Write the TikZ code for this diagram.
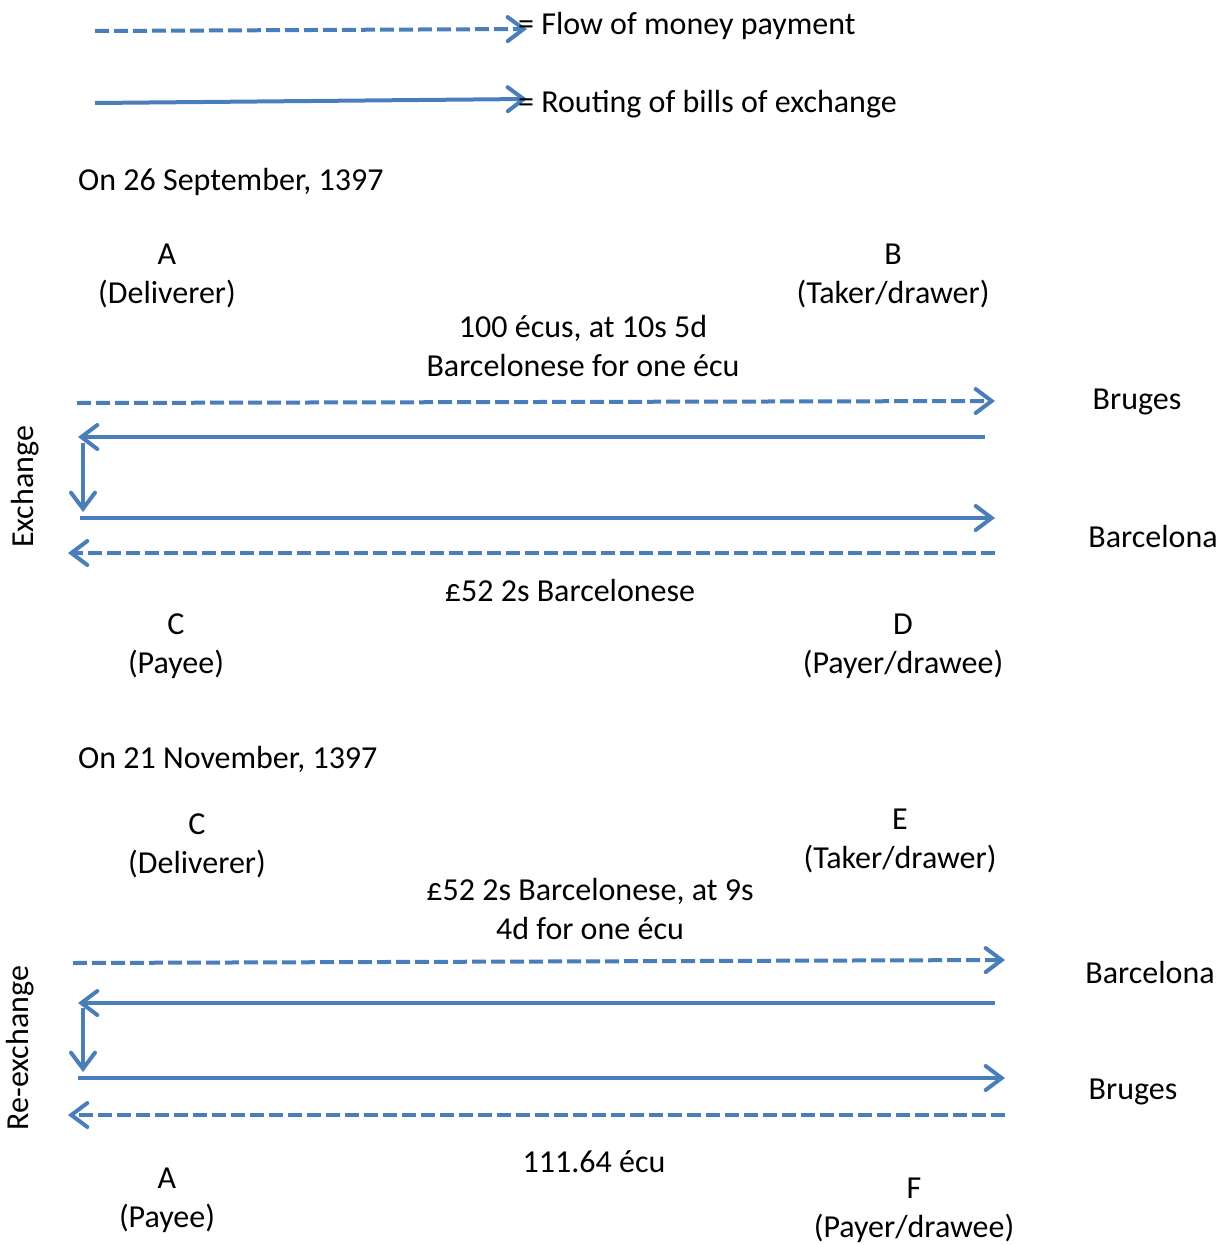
\documentclass[tikz,border=0pt]{standalone}
\usepackage{fontspec}
\setmainfont{Carlito}
\usetikzlibrary{arrows.meta}
\definecolor{lineblue}{RGB}{74,126,187}
\tikzset{
 bill/.style={draw=lineblue,line width=4pt,-{Straight Barb[length=16pt,width=24pt,line cap=round]}},
 money/.style={bill,dash pattern=on 14pt off 5pt},
 lbl/.style={font=\fontsize{32}{39}\selectfont,align=center,inner sep=0pt}
}
\begin{document}
\begin{tikzpicture}[x=1pt,y=-1pt]
 \useasboundingbox (0,0) rectangle (1221,1245);
 \coordinate (kms) at (95,31); \coordinate (kme) at (527,29);
 \coordinate (kbs) at (95,103); \coordinate (kbe) at (527,99);
 \draw[money] (kms) -- (kme);
 \draw[bill] (kbs) -- (kbe);
 \node[lbl,anchor=west] (kmoney) at (518,26) {= Flow of money payment};
 \node[lbl,anchor=west] (kbill) at (518,104) {= Routing of bills of exchange};

 \node[lbl,anchor=west] (date1) at (78,182) {On 26 September, 1397};
 \node[lbl] (A1) at (167,276) {A\\(Deliverer)};
 \node[lbl] (B1) at (893,276) {B\\(Taker/drawer)};
 \node[lbl] (deal1) at (583,346) {100 écus, at 10s 5d\\Barcelonese for one écu};
 \node[lbl] (bru1) at (1137,402) {Bruges};
 \node[lbl] (bcn1) at (1153,537) {Barcelona};
 \node[lbl,rotate=90] (exch) at (25,487) {Exchange};
 \coordinate (a1s) at (77,403); \coordinate (a1e) at (995,401);
 \coordinate (a2s) at (985,437); \coordinate (a2e) at (78,437);
 \coordinate (a3s) at (83,443); \coordinate (a3e) at (83,512);
 \coordinate (a4s) at (80,518); \coordinate (a4e) at (995,518);
 \coordinate (a5s) at (995,553); \coordinate (a5e) at (68,553);
 \draw[money] (a1s) -- (a1e);
 \draw[bill] (a2s) -- (a2e);
 \draw[bill] (a3s) -- (a3e);
 \draw[bill] (a4s) -- (a4e);
 \draw[money] (a5s) -- (a5e);
 \node[lbl] (sum1) at (570,590) {£52 2s Barcelonese};
 \node[lbl] (C1) at (176,646) {C\\(Payee)};
 \node[lbl] (D1) at (903,646) {D\\(Payer/drawee)};

 \node[lbl,anchor=west] (date2) at (78,759) {On 21 November, 1397};
 \node[lbl] (C2) at (197,846) {C\\(Deliverer)};
 \node[lbl] (E2) at (900,841) {E\\(Taker/drawer)};
 \node[lbl] (deal2) at (590,909) {£52 2s Barcelonese, at 9s\\4d for one écu};
 \node[lbl] (bcn2) at (1150,972) {Barcelona};
 \node[lbl] (bru2) at (1133,1092) {Bruges};
 \node[lbl,rotate=90] (reexch) at (20,1048) {Re-exchange};
 \coordinate (b1s) at (73,963); \coordinate (b1e) at (1005,960);
 \coordinate (b2s) at (995,1003); \coordinate (b2e) at (78,1003);
 \coordinate (b3s) at (83,1008); \coordinate (b3e) at (83,1072);
 \coordinate (b4s) at (78,1078); \coordinate (b4e) at (1005,1078);
 \coordinate (b5s) at (1005,1115); \coordinate (b5e) at (68,1115);
 \draw[money] (b1s) -- (b1e);
 \draw[bill] (b2s) -- (b2e);
 \draw[bill] (b3s) -- (b3e);
 \draw[bill] (b4s) -- (b4e);
 \draw[money] (b5s) -- (b5e);
 \node[lbl] (sum2) at (594,1162) {111.64 écu};
 \node[lbl] (A2) at (167,1200) {A\\(Payee)};
 \node[lbl] (F2) at (914,1210) {F\\(Payer/drawee)};
\end{tikzpicture}
\end{document}
